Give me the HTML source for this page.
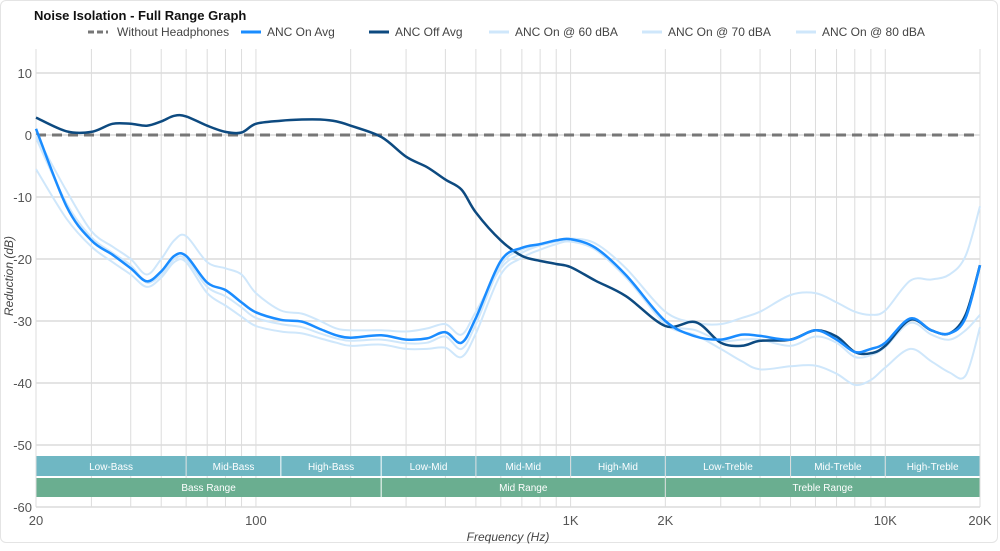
<!DOCTYPE html>
<html><head><meta charset="utf-8"><style>
html,body{margin:0;padding:0;background:#fff;}
body{width:1000px;height:545px;overflow:hidden;font-family:"Liberation Sans",sans-serif;}
#wrap{position:absolute;left:0;top:0;width:996px;height:541px;border:1px solid #e4e4e4;border-radius:6px;background:#fff;}
</style></head><body>
<div id="wrap">
<svg id="chart" width="1000" height="545" xmlns="http://www.w3.org/2000/svg">
<text x="33" y="19" font-size="13" font-weight="bold" fill="#111">Noise Isolation - Full Range Graph</text>
<g id="grid"></g>
<g id="bands"></g>
<g id="series"></g>
<g id="axes"></g>
<g id="legend"></g>
<text x="0" y="0" transform="translate(12,275) rotate(-90)" text-anchor="middle" font-size="12" font-style="italic" fill="#444">Reduction (dB)</text>
<text x="507" y="540" text-anchor="middle" font-size="12" font-style="italic" fill="#444">Frequency (Hz)</text>
</svg>
</div>
<script>
const freqs=[20,25,30,35,40,45,50,55,60,70,80,90,100,120,140,160,180,200,250,300,350,400,450,500,600,700,800,900,1000,1200,1500,2000,2500,3000,3500,4000,5000,6000,7000,8000,9000,10000,12000,14000,16000,18000,20000];
const ancOff=[2.8,0.6,0.5,1.8,1.8,1.5,2.2,3.1,3.0,1.5,0.5,0.4,1.8,2.3,2.5,2.5,2.2,1.5,-0.3,-3.5,-5.2,-7.2,-8.8,-12.5,-17,-19.5,-20.3,-20.8,-21.3,-23.5,-26,-30.8,-30.2,-33.5,-34,-33.2,-33,-31.5,-32.5,-35,-35.2,-34,-29.8,-31.5,-32,-29,-21];
const ancOn=[1,-11.5,-17,-19.3,-21.5,-23.6,-22,-19.5,-19.5,-23.8,-25,-27,-28.6,-29.8,-30.1,-31.3,-32.3,-32.7,-32.3,-33,-32.8,-31.8,-33.5,-29.5,-20.3,-18.2,-17.6,-17,-16.8,-18.2,-22.6,-30,-32.5,-33,-32.2,-32.4,-33,-31.5,-33,-35,-34.5,-33.5,-29.6,-31.5,-32,-29.5,-21];
const on60=[0,-9,-15.5,-18,-20,-22.5,-20,-17,-16.3,-20.5,-21.5,-22.5,-25.5,-28.3,-28.8,-30,-31.2,-31.5,-31.5,-31.7,-31.2,-30.5,-32.2,-28.5,-21.5,-19,-17.8,-17,-16.7,-17.5,-21.5,-28.5,-30.3,-30.5,-29.5,-28.5,-25.8,-25.5,-27,-28.5,-29,-28.3,-23.5,-23.3,-22.5,-19.5,-11.5];
const on70=[-0.5,-11,-16.5,-19,-21,-23.8,-22.5,-20,-20,-24.5,-26,-27.8,-29.5,-30.5,-31,-32,-32.8,-33.2,-33,-33.6,-33.5,-32.5,-34.5,-30.5,-21,-18.5,-17.8,-17.2,-17,-18.5,-23,-30.2,-31.5,-33.2,-33,-33,-34,-32.5,-33.5,-35.8,-35.5,-34.2,-30.3,-32.2,-33,-31.5,-29];
const on80=[-5.5,-13.5,-18,-20.5,-22.5,-24.5,-23,-20.5,-20.5,-25.5,-27.5,-29.3,-30.8,-31.7,-32,-32.8,-33.5,-34,-33.8,-34.5,-34.5,-34.3,-35.8,-32,-22.5,-19.8,-18.5,-17.6,-17.2,-18.5,-22.8,-30.5,-32.3,-34.5,-36.5,-37.8,-37.3,-37.2,-38.5,-40.3,-39.5,-37.5,-34.5,-36.5,-38.3,-38.8,-31];
const yTicks=[10,0,-10,-20,-30,-40,-50,-60];
const xTickVals=[20,100,1000,2000,10000,20000];
const xTickLabels=["20","100","1K","2K","10K","20K"];
const bandNames=["Low-Bass","Mid-Bass","High-Bass","Low-Mid","Mid-Mid","High-Mid","Low-Treble","Mid-Treble","High-Treble"];
const bandEdges=[20,60,120,250,500,1000,2000,5000,10000,20000];
const rangeNames=["Bass Range","Mid Range","Treble Range"];
const rangeEdges=[20,250,2000,20000];

const NS="http://www.w3.org/2000/svg";
const X0=35,X1=979,Y0=134,PPD=6.2;
const xs=f=>X0+(X1-X0)*Math.log10(f/20)/3;
const ys=v=>Y0-v*PPD;
function mk(tag,attrs,parent){const e=document.createElementNS(NS,tag);for(const k in attrs)e.setAttribute(k,attrs[k]);parent.appendChild(e);return e;}
const grid=document.getElementById('grid'),axes=document.getElementById('axes'),bands=document.getElementById('bands'),series=document.getElementById('series'),legend=document.getElementById('legend');

// vertical grid
for(let d=10;d<=10000;d*=10){for(let m=1;m<10;m++){const f=d*m;if(f<20||f>20000)continue;
 const l=mk('line',{x1:xs(f),x2:xs(f),y1:48,y2:ys(-60),stroke:'#dcdcdc','stroke-width':1},grid);
 
 }}
{const l=mk('line',{x1:xs(20000),x2:xs(20000),y1:48,y2:ys(-60),stroke:'#dcdcdc','stroke-width':1},grid);
 
 }
yTicks.forEach(v=>{
 const l=mk('line',{x1:X0,x2:X1,y1:ys(v),y2:ys(v),stroke:'#dcdcdc','stroke-width':1.5},grid);
 
 
 const t=mk('text',{x:31,y:ys(v)+5,'text-anchor':'end','font-size':13,fill:'#555'},axes);t.textContent=String(v);
 
 
});
xTickVals.forEach((f,i)=>{
 const t=mk('text',{x:xs(f),y:524,'text-anchor':'middle','font-size':13,fill:'#555'},axes);t.textContent=xTickLabels[i];
 
 
});
// bands
bandNames.forEach((n,i)=>{
 const a=xs(bandEdges[i]),b=xs(bandEdges[i+1]);
 const r=mk('rect',{x:a+0.5,y:455,width:b-a-1,height:20,fill:'#6fb7c3'},bands);
 
 
 const t=mk('text',{x:(a+b)/2,y:469,'text-anchor':'middle','font-size':10,fill:'#fff'},bands);t.textContent=n;
 
 
});
rangeNames.forEach((n,i)=>{
 const a=xs(rangeEdges[i]),b=xs(rangeEdges[i+1]);
 const r=mk('rect',{x:a+0.5,y:477,width:b-a-1,height:19,fill:'#6aae90'},bands);
 
 
 const t=mk('text',{x:(a+b)/2,y:490,'text-anchor':'middle','font-size':10,fill:'#fff'},bands);t.textContent=n;
 
 
});
// smooth path
function pathD(vals){
 const p=freqs.map((f,i)=>[xs(f),ys(vals[i])]);
 let d='M'+p[0][0].toFixed(1)+','+p[0][1].toFixed(1);
 for(let i=0;i<p.length-1;i++){
  const p0=p[Math.max(0,i-1)],p1=p[i],p2=p[i+1],p3=p[Math.min(p.length-1,i+2)];
  const c1=[p1[0]+(p2[0]-p0[0])/6,p1[1]+(p2[1]-p0[1])/6];
  const c2=[p2[0]-(p3[0]-p1[0])/6,p2[1]-(p3[1]-p1[1])/6];
  d+='C'+c1[0].toFixed(1)+','+c1[1].toFixed(1)+' '+c2[0].toFixed(1)+','+c2[1].toFixed(1)+' '+p2[0].toFixed(1)+','+p2[1].toFixed(1);
 }
 return d;
}
const z=mk('line',{x1:X0,x2:X1,y1:ys(0),y2:ys(0),stroke:'#777','stroke-width':3,'stroke-dasharray':'10,6'},series);


const lightC='#cfe7fb';
[[on60,'anc-60dba-line'],[on70,'anc-70dba-line'],[on80,'anc-80dba-line']].forEach(([v,n])=>{
 const p=mk('path',{d:pathD(v),fill:'none',stroke:lightC,'stroke-width':2},series);
 
 
});
const pOff=mk('path',{d:pathD(ancOff),fill:'none',stroke:'#0d4a80','stroke-width':2.5},series);


const pOn=mk('path',{d:pathD(ancOn),fill:'none',stroke:'#1a8cff','stroke-width':2.5},series);


// legend
const leg=[[87,'Without Headphones','#777',true],[240,'ANC On Avg','#1a8cff',false],[368,'ANC Off Avg','#0d4a80',false],[488,'ANC On @ 60 dBA',lightC,false],[641,'ANC On @ 70 dBA',lightC,false],[795,'ANC On @ 80 dBA',lightC,false]];
leg.forEach(([x,n,c,dash])=>{
 const g=mk('g',{},legend);
 
 
 const a={x1:x,x2:x+20,y1:31,y2:31,stroke:c,'stroke-width':3};if(dash)a['stroke-dasharray']='6,3';
 mk('line',a,g);
 const t=mk('text',{x:x+(dash?29:26),y:35,'font-size':12,fill:'#444'},g);t.textContent=n;
});
</script>
</body></html>
